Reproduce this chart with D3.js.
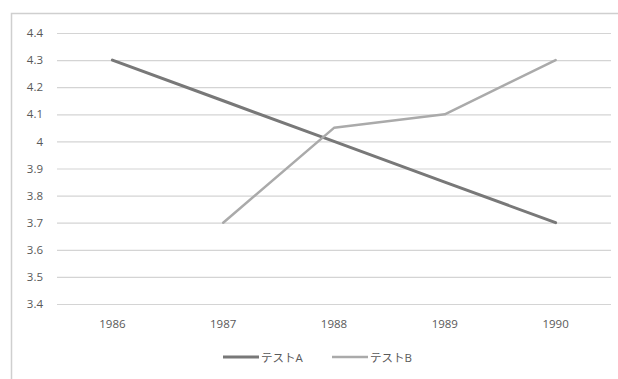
<!DOCTYPE html>
<html><head><meta charset="utf-8">
<script src="https://cdn.jsdelivr.net/npm/d3@7"></script>
<style>
html,body{margin:0;padding:0;background:#fff;}
text{font-family:"Open Sans","Noto Sans CJK JP",sans-serif;}
</style></head>
<body><svg id="c" width="618" height="379"></svg>
<script>
const categories = ["1986","1987","1988","1989","1990"];
const seriesNames = ["テストA","テストB"];
const seriesA = [4.3, 4.15, 4.0, 3.85, 3.7];
const seriesB = [null, 3.7, 4.05, 4.1, 4.3];
const yTicks = [3.4,3.5,3.6,3.7,3.8,3.9,4.0,4.1,4.2,4.3,4.4];
const colors = ["#787878","#aaaaaa"];
const widths = [3,2.5];

const svg = d3.select("#c");
svg.append("rect").attr("x",11.5).attr("y",13.5).attr("width",640).attr("height",400)
  .attr("fill","#fff").attr("stroke","#cfcfcf").attr("stroke-width",1.5);

const x = d3.scaleBand().domain(categories).range([57,611]);
const y = d3.scaleLinear().domain([3.4,4.4]).range([304,33]);

const gy = svg.append("g").attr("transform","translate(57,0)")
  .call(d3.axisLeft(y).tickValues(yTicks).tickSize(-554).tickPadding(14)
    .tickFormat(d => d3.format("")(+d.toFixed(1))));
gy.select(".domain").remove();
gy.selectAll(".tick line").attr("stroke","#d4d4d4").attr("stroke-width",1.2);
gy.selectAll(".tick text").attr("fill","#595959").attr("font-size",11.5);

const gx = svg.append("g").attr("transform","translate(0,304)")
  .call(d3.axisBottom(x).tickSize(0).tickPadding(16));
gx.select(".domain").remove();
gx.selectAll(".tick text").attr("fill","#595959").attr("font-size",11.5);

const series = [seriesA, seriesB];
const line = d3.line()
  .defined(d => d.v != null)
  .x(d => x(d.c) + x.bandwidth()/2)
  .y(d => y(d.v));
series.forEach((s,i) => {
  svg.append("path")
    .datum(categories.map((c,j)=>({c, v:s[j]})))
    .attr("fill","none").attr("stroke",colors[i]).attr("stroke-width",widths[i])
    .attr("stroke-linejoin","round").attr("stroke-linecap","round")
    .attr("d", line);
});

const lg = svg.append("g").attr("transform","translate(0,357)");
const legX = [223, 332];
seriesNames.forEach((n,i) => {
  lg.append("line").attr("x1",legX[i]).attr("x2",legX[i]+36).attr("y1",0).attr("y2",0)
    .attr("stroke",colors[i]).attr("stroke-width",widths[i]);
  lg.append("text").attr("x",legX[i]+38).attr("y",4.5).attr("fill","#595959")
    .attr("font-size",11.5).attr("font-family","'Noto Sans CJK JP',sans-serif").text(n);
});
</script></body></html>
